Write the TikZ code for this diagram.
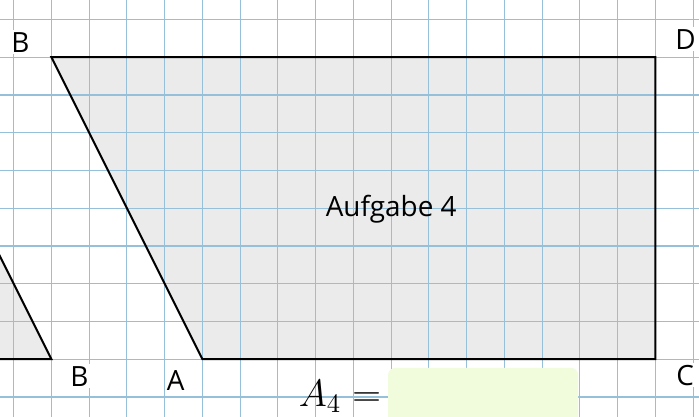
\documentclass[tikz,border=0pt]{standalone}
\usepackage{fontspec}
\setmainfont{Open Sans}
\definecolor{gridblue}{RGB}{150,192,218}
\definecolor{shapegray}{RGB}{235,235,235}
\definecolor{answergreen}{RGB}{241,252,220}
\begin{document}
\begin{tikzpicture}[x=0.5cm,y=0.5cm,
  gridline/.style={draw=gridblue, line width=0.4pt},
  edge/.style={draw=black, line width=0.75pt, line join=miter},
  lbl/.style={fill=white, inner sep=0.8pt, font=\fontsize{10.5}{12}\selectfont},
  answerbox/.style={fill=answergreen, rounded corners=2.6pt}]
\useasboundingbox (-0.363,-0.530) rectangle (18.154,10.516);
\clip (-0.363,-0.530) rectangle (18.154,10.516);
\fill[white] (-0.363,-0.530) rectangle (18.154,10.516);
% vertices
\coordinate (B) at (1,9);
\coordinate (D) at (17,9);
\coordinate (C) at (17,1);
\coordinate (A) at (5,1);
\coordinate (A2) at (1,1);
\coordinate (B2) at (-3,9);
\coordinate (L) at (-3,1);
% fills
\fill[shapegray] (B) -- (D) -- (C) -- (A) -- cycle;
\fill[shapegray] (B2) -- (A2) -- (L) -- cycle;
% grid
\foreach \x in {0,...,18} \draw[gridline] (\x,-1) -- (\x,11);
\foreach \y in {0,...,10} \draw[gridline] (-1,\y) -- (19,\y);
% outlines
\draw[edge] (B) -- (D) -- (C) -- (A) -- cycle;
\draw[edge] (L) -- (A2) -- (B2);
% answer box
\fill[answerbox] (9.92,-1.2) rectangle (14.95,0.77);
% labels
\node[lbl] (lB) at (0.18,9.40) {B};
\node[lbl] (lD) at (17.80,9.48) {D};
\node[lbl] (lC) at (17.79,0.58) {C};
\node[lbl] (lA) at (4.29,0.44) {A};
\node[lbl] (lB2) at (1.74,0.55) {B};
\node[font=\fontsize{10.5}{12}\selectfont, anchor=base] (title) at (10.0,4.77) {Aufgabe 4};
\node[font=\fontsize{14.5}{17}\selectfont, anchor=base east, inner sep=0pt] (eq) at (9.75,-0.26) {$A_4 =$};
\end{tikzpicture}
\end{document}
